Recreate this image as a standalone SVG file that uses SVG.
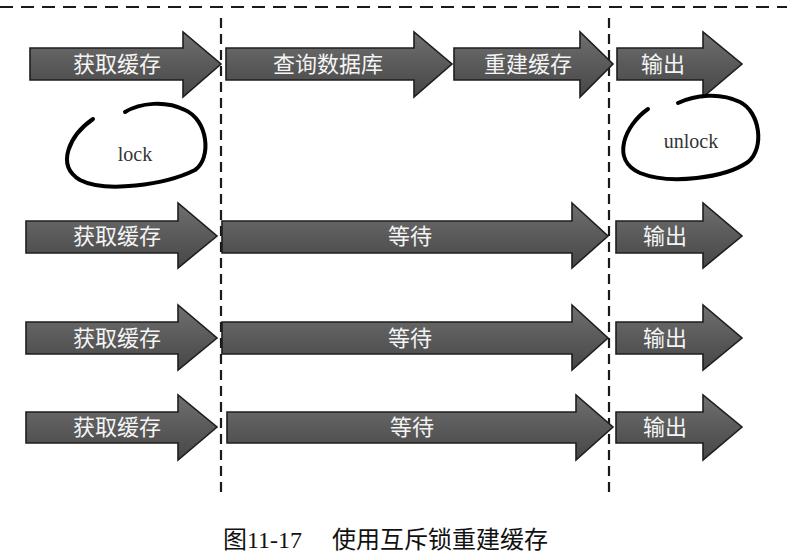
<svg xmlns="http://www.w3.org/2000/svg" width="787" height="560" viewBox="0 0 787 560">
<defs>
<linearGradient id="g" x1="0" y1="0" x2="0" y2="1">
<stop offset="0" stop-color="#707070"/>
<stop offset="0.5" stop-color="#5a5a5a"/>
<stop offset="1" stop-color="#474747"/>
</linearGradient>
<style>
.arr{fill:url(#g);stroke:#1e1e1e;stroke-width:1.6;stroke-linejoin:miter}
.lbl{fill:#f4f4f4;font-family:"Noto Sans CJK SC","Noto Sans",sans-serif;font-size:22px;text-anchor:middle}
.dash{stroke:#1a1a1a;stroke-width:2.2;fill:none}
.loop{fill:none;stroke:#000;stroke-width:4;stroke-linecap:round}
.hand{fill:#333;font-family:"Liberation Serif","DejaVu Serif",serif;font-size:20px;text-anchor:middle}
.cap{fill:#111;font-family:"Liberation Serif","Noto Sans CJK SC",serif;font-size:24px}
</style>
</defs>
<rect width="787" height="560" fill="#fff"/>
<g id="guides">
<line class="dash" x1="0" y1="7" x2="787" y2="7" stroke-dasharray="13 8"/>
<line class="dash" x1="221" y1="18" x2="221" y2="495" stroke-dasharray="10 6"/>
<line class="dash" x1="609" y1="18" x2="609" y2="495" stroke-dasharray="10 6"/>
</g>
<g id="row1">
<g id="r1-get"><polygon class="arr" points="30,48 183,48 183,32 221,64 183,97 183,80 30,80"/><text class="lbl" x="117" y="72">获取缓存</text></g>
<g id="r1-query"><polygon class="arr" points="226,48 414,48 414,32 452,64 414,97 414,80 226,80"/><text class="lbl" x="328" y="72">查询数据库</text></g>
<g id="r1-rebuild"><polygon class="arr" points="454,48 580,48 580,32 613,64 580,97 580,80 454,80"/><text class="lbl" x="528" y="72">重建缓存</text></g>
<g id="r1-out"><polygon class="arr" points="617,48 703,48 703,32 742,64 703,97 703,80 617,80"/><text class="lbl" x="663" y="72">输出</text></g>
</g>
<g id="lock">
<path class="loop" d="M93,119 C70,135 55,165 80,180 C105,193 165,185 195,170 C212,158 208,120 185,110 C165,100 140,103 125,112"/>
<text class="hand" x="135" y="161">lock</text>
</g>
<g id="unlock">
<path class="loop" d="M648,109 C625,125 610,160 640,173 C670,185 725,178 748,162 C765,148 760,112 740,102 C720,92 695,95 678,103"/>
<text class="hand" x="691" y="148">unlock</text>
</g>
<g id="row2">
<g id="r2-get"><polygon class="arr" points="26,221 178,221 178,203 217,236 178,268 178,253 26,253"/><text class="lbl" x="117" y="244">获取缓存</text></g>
<g id="r2-wait"><polygon class="arr" points="222,221 572,221 572,203 608,236 572,268 572,253 222,253"/><text class="lbl" x="410" y="244">等待</text></g>
<g id="r2-out"><polygon class="arr" points="616,221 703,221 703,203 742,236 703,268 703,253 616,253"/><text class="lbl" x="665" y="244">输出</text></g>
</g>
<g id="row3">
<g id="r3-get"><polygon class="arr" points="26,322 178,322 178,305 217,338 178,370 178,354 26,354"/><text class="lbl" x="117" y="346">获取缓存</text></g>
<g id="r3-wait"><polygon class="arr" points="222,322 572,322 572,305 608,338 572,370 572,354 222,354"/><text class="lbl" x="410" y="346">等待</text></g>
<g id="r3-out"><polygon class="arr" points="616,322 703,322 703,305 742,338 703,370 703,354 616,354"/><text class="lbl" x="665" y="346">输出</text></g>
</g>
<g id="row4">
<g id="r4-get"><polygon class="arr" points="26,412 178,412 178,395 217,427 178,460 178,443 26,443"/><text class="lbl" x="117" y="435">获取缓存</text></g>
<g id="r4-wait"><polygon class="arr" points="227,412 576,412 576,395 613,427 576,460 576,443 227,443"/><text class="lbl" x="412" y="435">等待</text></g>
<g id="r4-out"><polygon class="arr" points="616,412 703,412 703,395 742,427 703,460 703,443 616,443"/><text class="lbl" x="665" y="435">输出</text></g>
</g>
<g id="caption">
<text class="cap" y="548"><tspan x="223">图11-17</tspan><tspan x="332">使用互斥锁重建缓存</tspan></text>
</g>
</svg>
